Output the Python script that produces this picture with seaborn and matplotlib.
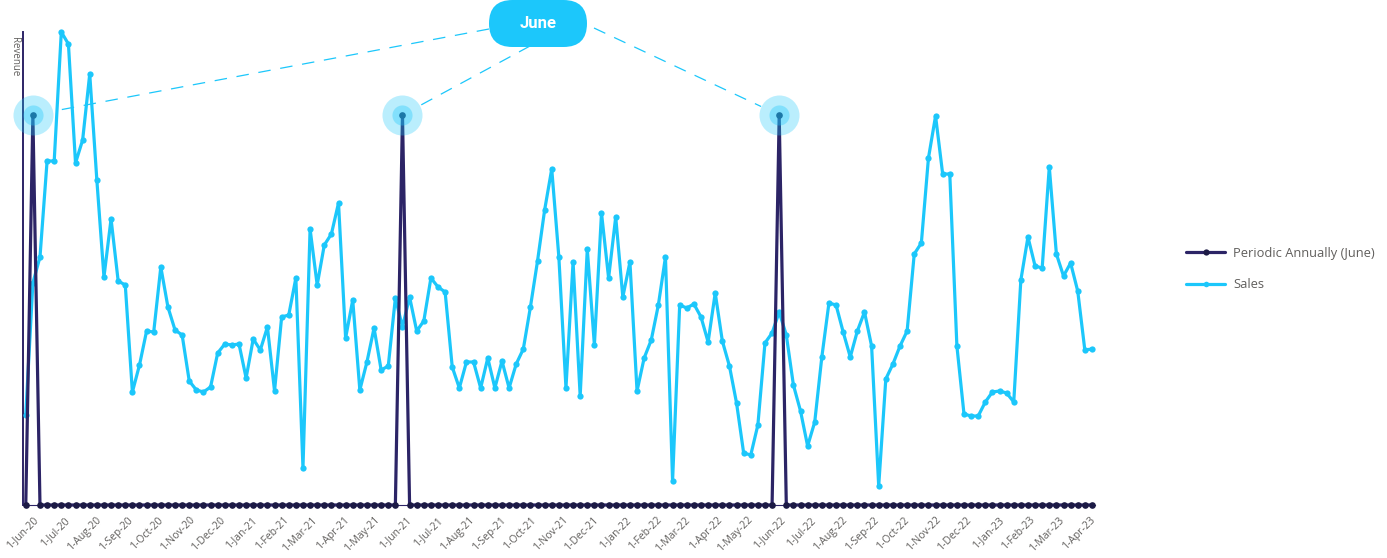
import numpy as np
import pandas as pd
import matplotlib
matplotlib.use("Agg")
import matplotlib.pyplot as plt
import matplotlib.dates as mdates
from matplotlib.lines import Line2D
from matplotlib.patches import FancyBboxPatch
import seaborn as sns

# ---------------- data ----------------
series_names = ["Periodic Annually (June)", "Sales"]
sales = [
    90, 222, 248, 344, 344, 473, 461, 342, 365, 431, 325, 228, 286, 224, 220, 113, 140, 174, 173,
    238, 198, 175, 170, 124, 115, 113, 118, 152, 161, 160, 161, 127, 166, 155, 178, 114, 188, 190,
    227, 37, 276, 220, 260, 271, 302, 167, 205, 115, 143, 177, 135, 139, 207, 178, 208, 174, 184,
    227, 218, 213, 138, 117, 143, 143, 117, 147, 117, 144, 117, 141, 156, 198, 244, 295, 336, 248,
    117, 243, 109, 256, 160, 292, 227, 288, 208, 243, 114, 147, 165, 200, 248, 24, 200, 197, 201,
    188, 163, 212, 164, 139, 102, 52, 50, 80, 162, 172, 193, 170, 120, 94, 59, 83, 148,
    202, 200, 173, 148, 174, 193, 159, 19, 126, 141, 159, 174, 251, 262, 347, 389, 331, 331, 159,
    91, 89, 89, 103, 113, 114, 112, 103, 225, 268, 239, 237, 338, 251, 229, 242, 214, 155, 156,
]
periodic_peak_weeks = [1, 53, 106]     # weeks where the annual (June) marker fires
periodic_peak_value = 390
first_week, last_week = "2020-05-25", "2023-04-03"
tick_months = pd.date_range("2020-06-01", "2023-04-01", freq="MS")
callout_text = "June"
y_label = "Revenue"

n_weeks = len(sales)
weeks = pd.date_range(first_week, last_week, periods=n_weeks)
periodic = [periodic_peak_value if i in periodic_peak_weeks else 0 for i in range(n_weeks)]
df = pd.DataFrame({"week": weeks, "Sales": sales, "Periodic": periodic})

# ---------------- style ----------------
CYAN = "#1CC7FB"
NAVY = "#2C2466"
NAVY_DOT = "#1C1A45"
GREY = "#605E5C"

sns.set_style("white")
plt.rcParams["font.family"] = ["Open Sans", "DejaVu Sans"]
plt.rcParams["lines.scale_dashes"] = False

W, H = 1387, 558
fig = plt.figure(figsize=(W / 100, H / 100), dpi=100)
ax = fig.add_axes([22.7 / W, 53 / H, (1095 - 22.7) / W, (505 - 32) / H])

sns.lineplot(data=df, x="week", y="Sales", ax=ax, color=CYAN, lw=2.3,
             marker="o", markersize=4.5, markeredgewidth=0, markeredgecolor=CYAN,
             legend=False, clip_on=False, zorder=3)
sns.lineplot(data=df, x="week", y="Periodic", ax=ax, color=NAVY, lw=2.3,
             marker="o", markersize=4.8, markerfacecolor=NAVY_DOT, markeredgewidth=0,
             markeredgecolor=NAVY_DOT, legend=False, clip_on=False, zorder=4)

# highlight circles at the June peaks
peak_x = [weeks[i] for i in periodic_peak_weeks]
peak_y = [periodic[i] for i in periodic_peak_weeks]
ax.scatter(peak_x, peak_y, s=830, color=CYAN, alpha=0.3, lw=0, zorder=6, clip_on=False)
ax.scatter(peak_x, peak_y, s=210, color=CYAN, alpha=0.35, lw=0, zorder=7, clip_on=False)

ax.set_xlim(weeks[0] - pd.Timedelta(days=3), weeks[-1] + pd.Timedelta(days=3))
ax.set_ylim(0, max(sales))
ax.set_yticks([])
ax.set_xlabel("")
ax.set_ylabel("")
ax.set_xticks(tick_months)
ax.set_xticklabels([f"{d.day}-{d.strftime('%b-%y')}" for d in tick_months])
ax.tick_params(axis="x", length=0, pad=7, labelsize=7.5, labelcolor=GREY)
for lbl in ax.get_xticklabels():
    lbl.set_rotation(45)
    lbl.set_ha("right")
    lbl.set_va("top")
    lbl.set_rotation_mode("anchor")

for s in ["top", "right"]:
    ax.spines[s].set_visible(False)
ax.spines["left"].set_color(NAVY)
ax.spines["left"].set_linewidth(1.4)
ax.spines["bottom"].set_color(NAVY)
ax.spines["bottom"].set_linewidth(0.8)
ax.patch.set_alpha(0)

fig.text(14 / W, 1 - 37 / H, y_label, rotation=270, ha="center", va="top",
         fontsize=7, color=GREY)

# legend
handles = [
    Line2D([], [], color=NAVY, lw=2.3, marker="o", markersize=4.5,
           markerfacecolor=NAVY_DOT, markeredgewidth=0),
    Line2D([], [], color=CYAN, lw=2.3, marker="o", markersize=4,
           markeredgewidth=0),
]
fig.legend(handles, series_names, loc="center left",
           bbox_to_anchor=(1180 / W, 1 - 269 / H), frameon=False, fontsize=9.3,
           handlelength=3.0, handletextpad=0.6, labelspacing=1.45, borderpad=0,
           labelcolor=GREY)

# callout overlay (pixel coordinates)
oax = fig.add_axes([0, 0, 1, 1], zorder=10)
oax.set_xlim(0, W)
oax.set_ylim(0, H)
oax.axis("off")
oax.patch.set_alpha(0)

pill_x0, pill_w, pill_h = 489, 98, 47
pill = FancyBboxPatch((pill_x0, H - pill_h), pill_w, pill_h,
                      boxstyle=f"round,pad=0,rounding_size={pill_h / 2}",
                      fc=CYAN, ec="none")
oax.add_patch(pill)
oax.text(pill_x0 + pill_w / 2, H - pill_h / 2, callout_text, color="white",
         fontsize=12, fontweight="bold", family=["Roboto", "DejaVu Sans"],
         ha="center", va="center")

fig.canvas.draw()
starts = [(489, H - 29), (530, H - 46), (594, H - 28)]
radius = 20
for (sx, sy), i in zip(starts, periodic_peak_weeks):
    px, py = ax.transData.transform((mdates.date2num(weeks[i]), periodic[i]))
    dx, dy = px - sx, py - sy
    d = np.hypot(dx, dy)
    ex, ey = px - dx / d * radius, py - dy / d * radius
    oax.plot([sx, ex], [sy, ey], color=CYAN, lw=0.9, linestyle=(0, (9, 7)))

fig.savefig("out.png", dpi=100)
